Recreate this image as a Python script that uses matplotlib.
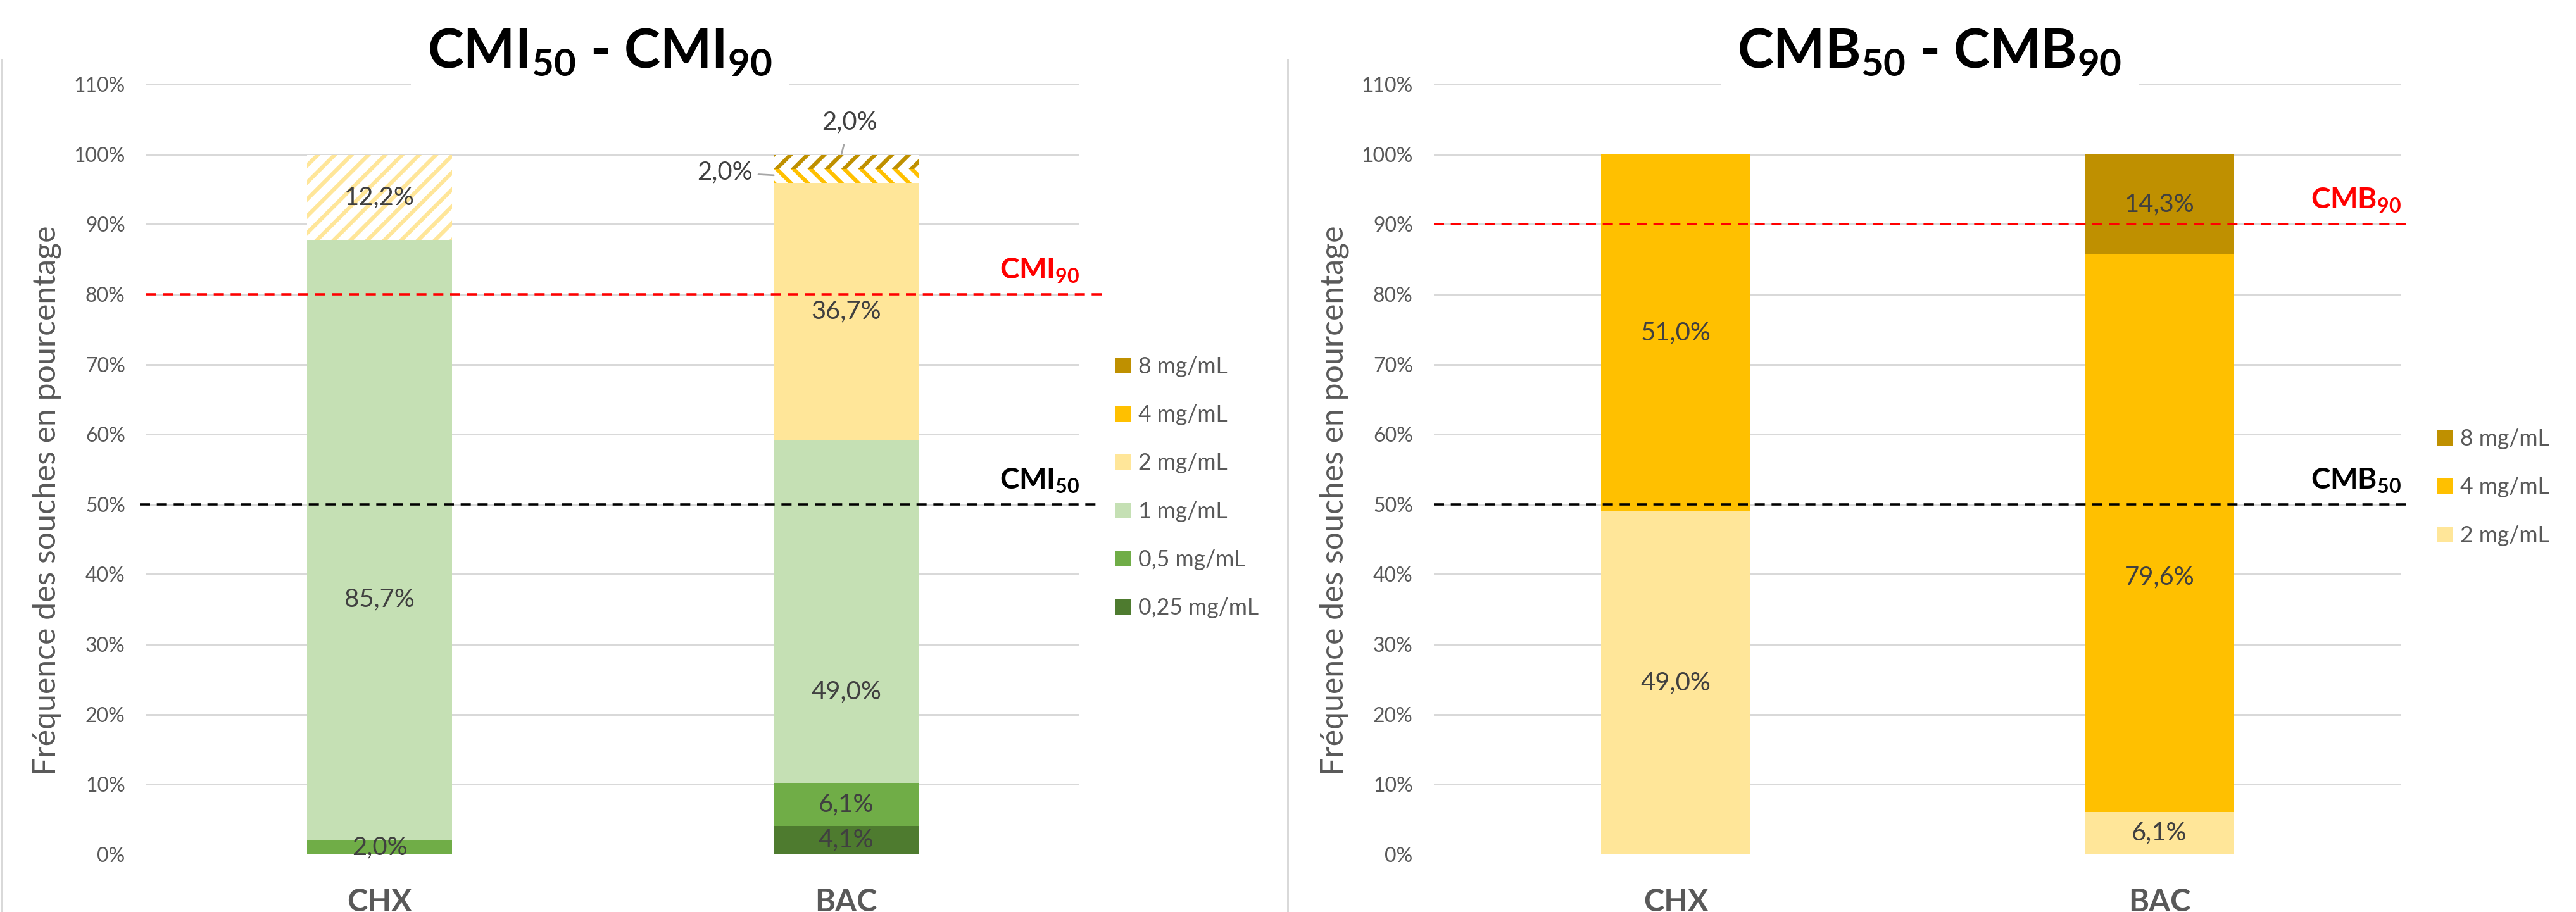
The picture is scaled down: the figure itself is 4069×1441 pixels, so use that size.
# CMI / CMB stacked bars, CHX vs BAC
import matplotlib
matplotlib.use('Agg')
import matplotlib.pyplot as plt
from matplotlib.patches import Patch
from matplotlib.lines import Line2D
import matplotlib.transforms as mtransforms

plt.rcParams['font.family'] = ['Lato', 'DejaVu Sans']
plt.rcParams['mathtext.default'] = 'regular'
plt.rcParams['hatch.linewidth'] = 2.8

# data
categories = ['CHX', 'BAC']
cmi_levels = ['0,25 mg/mL', '0,5 mg/mL', '1 mg/mL', '2 mg/mL', '4 mg/mL', '8 mg/mL']
cmi_chx = [0, 2.0, 85.7, 12.2, 0, 0]
cmi_bac = [4.1, 6.1, 49.0, 36.7, 2.0, 2.0]
cmb_levels = ['2 mg/mL', '4 mg/mL', '8 mg/mL']
cmb_chx = [49.0, 51.0, 0]
cmb_bac = [6.1, 79.6, 14.3]

colors = {'0,25 mg/mL': '#4E7B2F', '0,5 mg/mL': '#70AD47', '1 mg/mL': '#C5E0B4',
          '2 mg/mL': '#FFE699', '4 mg/mL': '#FFC000', '8 mg/mL': '#BF9000'}

W, H, DPI = 4069, 1441, 160
fig = plt.figure(figsize=(W / DPI, H / DPI), dpi=DPI)

GRID = '#D9D9D9'
TXT = '#595959'
LAB = '#404040'


def fx(px):
    return px / W


def fy(py):
    return 1 - py / H


def fmt(v):
    return f'{v:.1f}%'.replace('.', ',')


def panel(left, right, levels, series, hatched, label_y, skip_labels):
    ax = fig.add_axes([fx(left), fy(1350), fx(right - left), fy(133) - fy(1350)])
    ax.set_xlim(-0.5, 1.5)
    ax.set_ylim(0, 110)
    bottoms = [0, 0]
    for lev in levels:
        vals = [series[c][levels.index(lev)] for c in categories]
        for i, c in enumerate(categories):
            v = vals[i]
            if v == 0:
                continue
            h = hatched.get((c, lev))
            if h:
                ax.bar(i, v, 0.31, bottom=bottoms[i], color='white',
                       edgecolor=colors[lev], hatch=h, linewidth=0, zorder=2)
            else:
                ax.bar(i, v, 0.31, bottom=bottoms[i], color=colors[lev],
                       linewidth=0, zorder=2)
            if (c, lev) not in skip_labels:
                y = label_y.get((c, lev), bottoms[i] + v / 2)
                ax.text(i, y, fmt(v), ha='center', va='center', fontsize=18,
                        color=LAB, zorder=5)
            bottoms[i] += v
    ax.set_yticks(range(0, 111, 10))
    ax.set_yticklabels([f'{t}%' for t in range(0, 111, 10)])
    ax.set_xticks(range(len(categories)))
    ax.set_xticklabels(categories, fontweight='bold')
    ax.tick_params(axis='y', length=0, pad=15, labelsize=14.4, labelcolor=TXT)
    ax.tick_params(axis='x', length=0, pad=24, labelsize=22, labelcolor=TXT)
    ax.grid(axis='y', color=GRID, linewidth=1.35, zorder=0)
    ax.set_axisbelow(True)
    for s in ax.spines.values():
        s.set_visible(False)
    return ax


def ref_line(ax, y, color, label, x0, x1):
    tr = mtransforms.blended_transform_factory(ax.transAxes, ax.transData)
    ax.plot([x0, x1], [y, y], transform=tr, color=color, linewidth=1.6,
            dashes=(4.5, 3), clip_on=False, zorder=6)
    ax.text(1.0, y + 2.2, label, transform=tr, ha='right', va='baseline',
            fontsize=20.7, fontweight='bold', color=color, zorder=6)


# left panel: CMI
ax1 = panel(231, 1705, cmi_levels,
            {'CHX': cmi_chx, 'BAC': cmi_bac},
            {('CHX', '2 mg/mL'): '//', ('BAC', '4 mg/mL'): '\\\\', ('BAC', '8 mg/mL'): '//'},
            {('CHX', '1 mg/mL'): 36.4, ('BAC', '1 mg/mL'): 23.2},
            {('BAC', '4 mg/mL'), ('BAC', '8 mg/mL')})
# outside labels for the two thin hatched segments
ax1.annotate(fmt(cmi_bac[4]), xy=(0.845, 97.0), xytext=(0.80, 97.4),
             ha='right', va='center', fontsize=18, color=LAB,
             arrowprops=dict(arrowstyle='-', color='#A6A6A6', lw=1.2,
                             shrinkA=2, shrinkB=0))
ax1.annotate(fmt(cmi_bac[5]), xy=(0.99, 100.0), xytext=(1.008, 104.6),
             ha='center', va='center', fontsize=18, color=LAB, annotation_clip=False,
             arrowprops=dict(arrowstyle='-', color='#A6A6A6', lw=1.2,
                             shrinkA=6, shrinkB=0))
ref_line(ax1, 80, '#FF0000', r'CMI$_{90}$', 0, 1.024)
ref_line(ax1, 50, 'black', r'CMI$_{50}$', -0.007, 1.019)

# right panel: CMB
ax2 = panel(2265, 3793, cmb_levels,
            {'CHX': cmb_chx, 'BAC': cmb_bac},
            {}, {('BAC', '4 mg/mL'): 39.6}, set())
ref_line(ax2, 90, '#FF0000', r'CMB$_{90}$', 0, 1.005)
ref_line(ax2, 50, 'black', r'CMB$_{50}$', 0, 1.005)

# legends (solid squares, top level first)
for levels, xpx in ((cmi_levels, 1762), (cmb_levels, 3850)):
    handles = [Patch(facecolor=colors[l], edgecolor='none') for l in reversed(levels)]
    fig.legend(handles, list(reversed(levels)), loc='center left',
               bbox_to_anchor=(fx(xpx), fy(770)), frameon=False, fontsize=16,
               labelcolor=TXT, handlelength=0.7, handleheight=0.7,
               handletextpad=0.3, labelspacing=1.22, borderpad=0, borderaxespad=0)

# titles
for txt, xpx in ((r'CMI$_{50}$ - CMI$_{90}$', 948), (r'CMB$_{50}$ - CMB$_{90}$', 3048)):
    fig.text(fx(xpx), fy(107), txt, ha='center', va='baseline', fontsize=38.7,
             fontweight='bold', color='black', zorder=10,
             bbox=dict(facecolor='white', edgecolor='none', pad=12))

# y axis titles
for xpx in (74, 2108):
    fig.text(fx(xpx), fy(791), 'Fréquence des souches en pourcentage', rotation=90,
             ha='center', va='center', fontsize=22.5, color=TXT)

# chart borders
fig.add_artist(Line2D([fx(2034), fx(2034)], [0, fy(94)], color=GRID, linewidth=1.35))
fig.add_artist(Line2D([fx(2), fx(2)], [0, fy(94)], color=GRID, linewidth=1.35))

fig.savefig('out.png', dpi=DPI, facecolor='white')
